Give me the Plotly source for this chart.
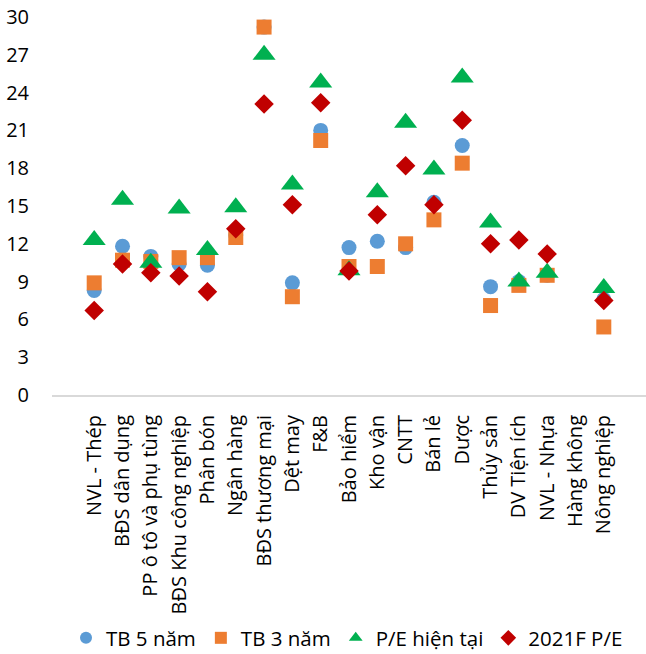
import plotly.graph_objects as go

categories = ['NVL - Thép', 'BĐS dân dụng', 'PP ô tô và phụ tùng', 'BĐS Khu công nghiệp',
              'Phân bón', 'Ngân hàng', 'BĐS thương mại', 'Dệt may', 'F&B', 'Bảo hiểm',
              'Kho vận', 'CNTT', 'Bán lẻ', 'Dược', 'Thủy sản', 'DV Tiện ích', 'NVL - Nhựa',
              'Hàng không', 'Nông nghiệp']

tb_5_nam = [8.3, 11.8, 11.0, 10.4, 10.3, 12.7, 29.2, 8.9, 21.0, 11.7,
            12.2, 11.7, 15.3, 19.8, 8.6, 9.0, 9.5, None, 7.6]
tb_3_nam = [8.9, 10.7, 10.6, 10.9, 10.9, 12.5, 29.2, 7.8, 20.2, 10.2,
            10.2, 12.0, 13.9, 18.4, 7.1, 8.7, 9.5, None, 5.4]
pe_hien_tai = [12.3, 15.5, 10.5, 14.8, 11.5, 14.9, 27.0, 16.7, 24.8, 9.9,
               16.1, 21.6, 17.9, 25.2, 13.7, 9.0, 9.7, None, 8.5]
pe_2021f = [6.7, 10.4, 9.7, 9.45, 8.2, 13.2, 23.1, 15.1, 23.2, 9.85,
            14.3, 18.2, 15.1, 21.8, 12.0, 12.3, 11.2, None, 7.5]

y_ticks = [0, 3, 6, 9, 12, 15, 18, 21, 24, 27, 30]

series = [
    ('TB 5 năm', tb_5_nam, 'circle', '#5B9BD5', 15),
    ('TB 3 năm', tb_3_nam, 'square', '#ED7D31', 15),
    ('P/E hiện tại', pe_hien_tai, 'triangle-up', '#00B050', 20),
    ('2021F P/E', pe_2021f, 'diamond', '#C00000', 15),
]

fig = go.Figure()
for name, vals, sym, col, sz in series:
    fig.add_trace(go.Scatter(x=categories, y=vals, mode='markers', name=name,
                             marker=dict(symbol=sym, color=col, size=sz, line=dict(width=0))))

font_name = 'Open Sans'
fig.update_layout(
    width=646, height=654,
    margin=dict(l=52, r=0, t=17, b=259),
    plot_bgcolor='white', paper_bgcolor='white',
    font=dict(family=font_name, size=20, color='black'),
    showlegend=True,
    legend=dict(orientation='h', x=66 / 646, xanchor='left', xref='container',
                y=1 - 638 / 654, yanchor='middle', yref='container',
                bgcolor='rgba(0,0,0,0)',
                font=dict(size=20.5), itemsizing='constant', itemwidth=30,
                tracegroupgap=0),
)
fig.update_xaxes(type='category', tickangle=-90, showgrid=False, showline=True,
                 linecolor='#D9D9D9', linewidth=2, ticks='', automargin=False,
                 ticklabelstandoff=10, tickfont=dict(size=20))
fig.update_yaxes(range=[0, 30], tickvals=y_ticks, showgrid=False, zeroline=False,
                 showline=False, ticks='', automargin=False, ticklabelstandoff=22,
                 tickfont=dict(size=20))

# page body has an 8px default margin, drop it so the figure sits at 0,0
fig.write_html("out.html", config={'displayModeBar': False},
               post_script="document.body.style.margin='0';")
